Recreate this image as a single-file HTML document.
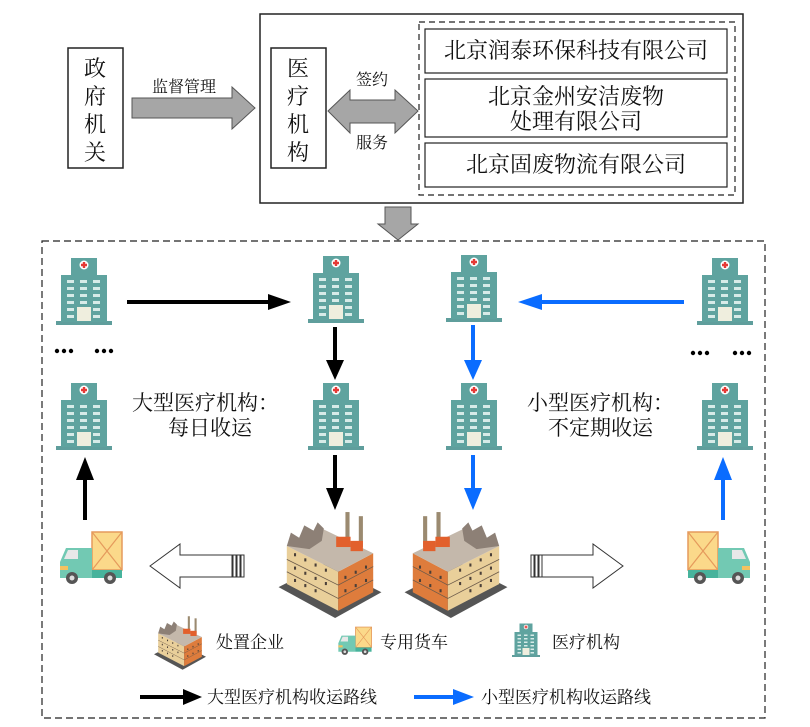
<!DOCTYPE html>
<html><head><meta charset="utf-8"><style>
body{margin:0;background:#fff}
svg{display:block}
text{font-family:"Liberation Serif","Noto Serif CJK SC","Noto Sans CJK SC",serif;fill:#111}
</style></head><body>
<svg width="810" height="727" viewBox="0 0 810 727" xmlns="http://www.w3.org/2000/svg">
<defs>
<symbol id="hosp" viewBox="0 0 56 72">
<rect x="0" y="66" width="56" height="4" fill="#5f9e9c"/>
<rect x="5" y="20" width="46" height="47" fill="#5fa39f"/>
<rect x="15" y="3" width="26" height="18" fill="#5fa39f"/>
<circle cx="28" cy="10" r="4.5" fill="#fff"/>
<path d="M26.8 7h2.4v1.8h1.8v2.4h-1.8v1.8h-2.4v-1.8h-1.8v-2.4h1.8z" fill="#e53935"/>
<g fill="#d7ebe8">
<rect x="11" y="25" width="7" height="3"/><rect x="24" y="25" width="7" height="3"/><rect x="37" y="25" width="7" height="3"/>
<rect x="11" y="32" width="7" height="3"/><rect x="24" y="32" width="7" height="3"/><rect x="37" y="32" width="7" height="3"/>
<rect x="11" y="39" width="7" height="3"/><rect x="24" y="39" width="7" height="3"/><rect x="37" y="39" width="7" height="3"/>
<rect x="11" y="46" width="7" height="3"/><rect x="24" y="46" width="7" height="3"/><rect x="37" y="46" width="7" height="3"/>
<rect x="11" y="53" width="7" height="3"/><rect x="37" y="53" width="7" height="3"/>
<rect x="11" y="60" width="7" height="3"/><rect x="37" y="60" width="7" height="3"/>
</g>
<rect x="21" y="52" width="14" height="14" fill="#efeede"/>
</symbol>
<symbol id="truck" viewBox="0 0 64 56">
<rect x="32" y="2" width="30" height="38" fill="#fbd98a" stroke="#e59a5c" stroke-width="1.5"/>
<path d="M32 2L62 40M62 2L32 40" stroke="#e59a5c" stroke-width="1.2"/>
<path d="M0 32 L6 18 H32 V48 H0Z" fill="#72c9b3"/>
<path d="M4 29 L8 20 H18 V29Z" fill="#e8e8e8"/>
<rect x="32" y="40" width="30" height="8" fill="#47b39c"/>
<rect x="0" y="36" width="8" height="4" fill="#f3c260"/>
<circle cx="12" cy="48" r="6" fill="#555"/><circle cx="12" cy="48" r="2.5" fill="#ddd"/>
<circle cx="50" cy="48" r="6" fill="#555"/><circle cx="50" cy="48" r="2.5" fill="#ddd"/>
</symbol>
<symbol id="fact" viewBox="0 0 100 105">
<path d="M0 75 L55 105 L100 80 L45 52Z" fill="#555"/>
<path d="M8 35 L58 60 L58 98 L8 72Z" fill="#e9cf9a"/>
<path d="M58 60 L92 42 L92 80 L58 98Z" fill="#de7c3c"/>
<path d="M8 35 L58 60 L92 42 L42 18Z" fill="#c4b8ab"/>
<path d="M8 35 L12 22 L20 27 L25 15 L34 20 L38 12 L44 18 L42 30 L30 38Z" fill="#8d8076"/>
<g stroke="#6b5a4a" stroke-width="0.8" fill="none"><path d="M8 48 L58 73 L92 55"/><path d="M8 60 L58 86 L92 68"/></g>
<g fill="#4a3f38"><rect x="15" y="42" width="2" height="3"/><rect x="25" y="47" width="2" height="3"/><rect x="35" y="52" width="2" height="3"/><rect x="45" y="57" width="2" height="3"/><rect x="15" y="55" width="2" height="3"/><rect x="25" y="60" width="2" height="3"/><rect x="35" y="65" width="2" height="3"/><rect x="45" y="70" width="2" height="3"/><rect x="15" y="67" width="2" height="3"/><rect x="25" y="72" width="2" height="3"/><rect x="35" y="77" width="2" height="3"/><rect x="64" y="64" width="2" height="3"/><rect x="74" y="59" width="2" height="3"/><rect x="84" y="54" width="2" height="3"/><rect x="64" y="77" width="2" height="3"/><rect x="74" y="72" width="2" height="3"/><rect x="84" y="67" width="2" height="3"/></g>
<rect x="65" y="2" width="4" height="32" fill="#9b8a70"/><rect x="78" y="6" width="4" height="30" fill="#9b8a70"/>
<rect x="56" y="26" width="14" height="10" fill="#e2602c"/><rect x="70" y="30" width="12" height="10" fill="#e2602c"/>
</symbol>
</defs>

<rect x="68" y="48" width="55" height="120" fill="#fff" stroke="#222" stroke-width="1.5"/>
<g font-size="22" text-anchor="middle"><text x="95" y="76">政</text><text x="95" y="104">府</text><text x="95" y="132">机</text><text x="95" y="160">关</text></g>
<text x="184" y="92" font-size="16" text-anchor="middle">监督管理</text>
<path d="M132 98 H232 V87 L255 108 L232 129 V118 H132Z" fill="#a6a6a6" stroke="#555" stroke-width="1"/>
<rect x="260" y="14" width="483" height="189" fill="none" stroke="#222" stroke-width="1.5"/>
<rect x="271" y="48" width="55" height="120" fill="#fff" stroke="#222" stroke-width="1.5"/>
<g font-size="22" text-anchor="middle"><text x="298" y="76">医</text><text x="298" y="104">疗</text><text x="298" y="132">机</text><text x="298" y="160">构</text></g>
<path d="M328 111 L350 90 V100 H395 V90 L418 111 L395 133 V123 H350 V133Z" fill="#a6a6a6" stroke="#555" stroke-width="1"/>
<text x="372" y="85" font-size="16" text-anchor="middle">签约</text>
<text x="372" y="148" font-size="16" text-anchor="middle">服务</text>
<rect x="419" y="22" width="316" height="173" fill="none" stroke="#222" stroke-width="1.2" stroke-dasharray="6,4"/>
<rect x="425" y="29" width="302" height="44" fill="#fff" stroke="#222" stroke-width="1.2"/>
<rect x="425" y="79" width="302" height="58" fill="#fff" stroke="#222" stroke-width="1.2"/>
<rect x="425" y="143" width="302" height="44" fill="#fff" stroke="#222" stroke-width="1.2"/>
<g font-size="22" text-anchor="middle"><text x="576" y="58">北京润泰环保科技有限公司</text><text x="576" y="104">北京金州安洁废物</text><text x="576" y="129">处理有限公司</text><text x="576" y="172">北京固废物流有限公司</text></g>
<path d="M385 207 H411 V224 H418 L398 240 L378 224 H385Z" fill="#a6a6a6" stroke="#555" stroke-width="1"/>

<rect x="42" y="241" width="723" height="477" fill="none" stroke="#222" stroke-width="1.2" stroke-dasharray="7,4"/>
<use href="#hosp" x="56" y="255" width="56" height="72"/>
<use href="#hosp" x="56" y="380" width="56" height="72"/>
<use href="#hosp" x="308" y="253" width="56" height="72"/>
<use href="#hosp" x="308" y="380" width="56" height="72"/>
<use href="#hosp" x="446" y="252" width="56" height="72"/>
<use href="#hosp" x="446" y="380" width="56" height="72"/>
<use href="#hosp" x="697" y="255" width="56" height="72"/>
<use href="#hosp" x="697" y="380" width="56" height="72"/>
<g fill="#000">
<circle cx="57" cy="351" r="2.2"/><circle cx="64" cy="351" r="2.2"/><circle cx="71" cy="351" r="2.2"/>
<circle cx="97" cy="351" r="2.2"/><circle cx="104" cy="351" r="2.2"/><circle cx="111" cy="351" r="2.2"/>
<circle cx="693" cy="353" r="2.2"/><circle cx="700" cy="353" r="2.2"/><circle cx="707" cy="353" r="2.2"/>
<circle cx="735" cy="353" r="2.2"/><circle cx="742" cy="353" r="2.2"/><circle cx="749" cy="353" r="2.2"/>
</g>

<g stroke="#000" stroke-width="4" fill="none">
<path d="M127 302 H270"/><path d="M335 327 V362"/><path d="M335 455 V490"/><path d="M85 520 V478"/>
</g>
<g fill="#000">
<path d="M268 294 L291 302 L268 310Z"/><path d="M326 360 L335 380 L344 360Z"/><path d="M326 488 L335 510 L344 488Z"/><path d="M76 480 L85 457 L94 480Z"/>
</g>
<g stroke="#0a6cff" stroke-width="4" fill="none">
<path d="M684 302 H540"/><path d="M473 325 V362"/><path d="M473 455 V490"/><path d="M723 520 V478"/>
</g>
<g fill="#0a6cff">
<path d="M542 294 L518 302 L542 310Z"/><path d="M464 360 L473 380 L482 360Z"/><path d="M464 488 L473 510 L482 488Z"/><path d="M714 480 L723 457 L732 480Z"/>
</g>

<g font-size="21"><text x="132" y="410">大型医疗机构：</text><text x="168" y="435">每日收运</text><text x="527" y="410">小型医疗机构：</text><text x="548" y="435">不定期收运</text></g>

<use href="#truck" x="60" y="530" width="64" height="56"/>
<g transform="translate(750,530) scale(-1,1)"><use href="#truck" x="0" y="0" width="64" height="56"/></g>
<use href="#fact" x="278" y="510" width="104" height="108"/>
<g transform="translate(508,510) scale(-1,1)"><use href="#fact" x="0" y="0" width="104" height="108"/></g>

<g fill="#fff" stroke="#333" stroke-width="1">
<path d="M150 566 L180 544 V555 H232 V577 H180 V588Z"/>
<rect x="233" y="555" width="3" height="22"/><rect x="237" y="555" width="3" height="22"/><rect x="241" y="555" width="3" height="22"/>
<path d="M623 566 L593 544 V555 H542 V577 H593 V588Z"/>
<rect x="531" y="555" width="3" height="22"/><rect x="535" y="555" width="3" height="22"/><rect x="539" y="555" width="3" height="22"/>
</g>

<use href="#fact" x="154" y="615" width="52" height="55"/>
<text x="216" y="648" font-size="17">处置企业</text>
<use href="#truck" x="338" y="626" width="35" height="30"/>
<text x="380" y="648" font-size="17">专用货车</text>
<use href="#hosp" x="512" y="621" width="28" height="38"/>
<text x="552" y="648" font-size="17">医疗机构</text>
<path d="M140 697 H185" stroke="#000" stroke-width="4"/><path d="M183 689 L202 697 L183 705Z" fill="#000"/>
<text x="207" y="703" font-size="17">大型医疗机构收运路线</text>
<path d="M414 697 H455" stroke="#0a6cff" stroke-width="4"/><path d="M453 689 L474 697 L453 705Z" fill="#0a6cff"/>
<text x="481" y="703" font-size="17">小型医疗机构收运路线</text>
</svg>
</body></html>
